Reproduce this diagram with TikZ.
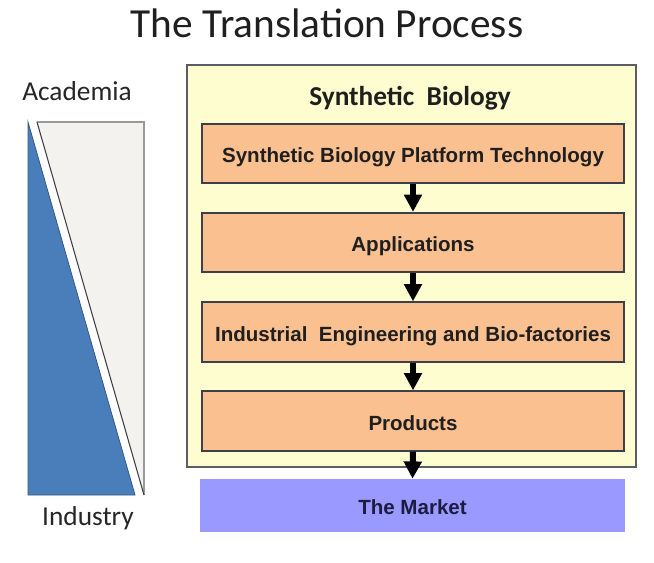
\documentclass[tikz,border=0pt]{standalone}
\usepackage{fontspec}
\setmainfont{Liberation Sans}
\newfontfamily\calibri{Carlito}
\usepackage{tikz}
\usetikzlibrary{arrows.meta}

\definecolor{stageorange}{HTML}{FAC090}
\definecolor{stageline}{HTML}{3F3F4C}
\definecolor{paleyellow}{HTML}{FDFDD0}
\definecolor{marketblue}{HTML}{9999FF}
\definecolor{marketink}{HTML}{1C1C40}
\definecolor{academiablue}{HTML}{4A7EBB}
\definecolor{industrywhite}{HTML}{F4F2EE}

\tikzset{
  stage/.style={draw=stageline, line width=1.5pt, fill=stageorange,
    minimum width=316pt, minimum height=44.5pt, inner sep=0pt,
    text height=14pt, text depth=0pt,
    font=\bfseries\fontsize{15.4}{18}\selectfont, text=black!88},
  market/.style={fill=marketblue, minimum width=318.75pt, minimum height=39.75pt,
    inner sep=0pt, text height=14pt, text depth=0pt,
    font=\bfseries\fontsize{15.4}{18}\selectfont, text=marketink},
  flow/.style={-{Triangle[width=13pt,length=13pt]}, line width=4.5pt, black},
  sidelabel/.style={anchor=base, font=\calibri\fontsize{20.5}{24}\selectfont, text=black!85}
}

\begin{document}
\begin{tikzpicture}[x=0.75pt, y=-0.75pt]
\useasboundingbox (0,0) rectangle (654,562);
\coordinate (atop) at (28,122);
\coordinate (abot) at (28,495);
\coordinate (aend) at (135,495);
\coordinate (itop) at (37,122);
\coordinate (icorner) at (144,122);
\coordinate (iend) at (144,495);
\node[anchor=base, font=\calibri\fontsize{31}{36}\selectfont, text=black!88] (title) at (327,37) {The Translation Process};
\node[sidelabel] (academia) at (77,100) {Academia};
\node[sidelabel] (industry) at (88,525) {Industry};
\filldraw[fill=academiablue, draw=academiablue!70!black, line width=0.6pt] (atop) -- (aend) -- (abot) -- cycle;
\filldraw[fill=industrywhite, draw=gray!80, line width=0.9pt] (itop) -- (icorner) -- (iend);
\draw[black!75, line width=0.8pt] (itop) -- (iend);
\node[draw=stageline!85, line width=1pt, fill=paleyellow, minimum width=336.75pt, minimum height=301.5pt, inner sep=0pt] (synbio) at (411.5,266) {};
\node[anchor=base, font=\calibri\bfseries\fontsize{20.5}{24}\selectfont, text=black!88] (synbiohead) at (410,105) {Synthetic\ \ Biology};
\node[stage] (platform) at (413,153.5) {Synthetic Biology Platform Technology};
\node[stage] (apps) at (413,242.5) {Applications};
\node[stage] (factories) at (413,332) {Industrial\ \ Engineering and Bio-factories};
\node[stage] (products) at (413,421) {Products};
\node[market] (market) at (412.5,505.5) {The Market};
\draw[flow] (platform.south) -- (apps.north);
\draw[flow] (apps.south) -- (factories.north);
\draw[flow] (factories.south) -- (products.north);
\draw[flow] (products.south) -- (market.north);
\end{tikzpicture}
\end{document}
